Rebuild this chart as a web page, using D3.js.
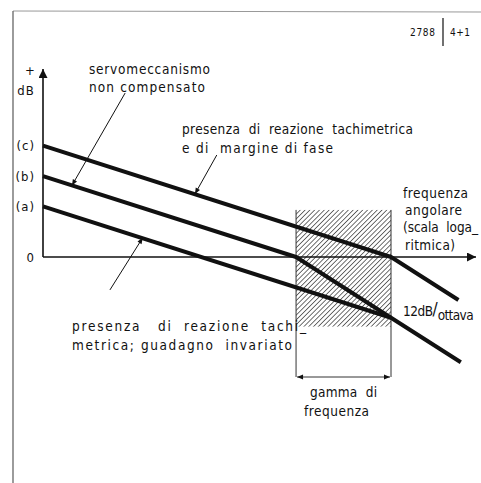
<!DOCTYPE html>
<html>
<head>
<meta charset="utf-8">
<script src="https://cdn.jsdelivr.net/npm/d3@7"></script>
<style>
  body { margin: 0; background: #fff; }
  svg { display: block; }
  text { font-family: "DejaVu Sans Condensed", "DejaVu Sans", sans-serif; fill: #111; }
</style>
</head>
<body>
<div id="chart"></div>
<script>
// levels on the dB axis (value in dB, label as drawn)
const levelValues = [0, 20, 32, 44];
const levelLabels = ["0", "(a)", "(b)", "(c)"];

// asymptotic curves: [octave, dB]
const curveA = [[0, 20], [7.33, -24]];
const curveB = [[0, 32], [5.33, 0], [7.33, -24], [8.8, -41.6]];
const curveC = [[0, 44], [7.33, 0], [8.75, -17]];

// frequency band (hatched)
const bandOctaves = [5.33, 7.33];
const bandDb = [18.6, -27.5];

// leader arrows: [from, to] in [octave, dB]
const leaders = [
    [[1.73, 64.8], [0.61, 28.3]],
    [[3.66, 40.3], [3.2, 24.9]],
    [[1.41, -13], [2.1, 7.6]]
];

const width = 481;
const height = 483;

document.addEventListener("DOMContentLoaded", draw);

function draw() {
    const svg = d3.select("#chart").append("svg")
        .attr("width", width)
        .attr("height", height);

    const x = d3.scaleLinear().domain([0, 9.12]).range([43, 476]);
    const y = d3.scaleLinear().domain([0, 74.3]).range([257, 69]);

    const defs = svg.append("defs");
    defs.append("pattern")
        .attr("id", "hatch")
        .attr("patternUnits", "userSpaceOnUse")
        .attr("width", 3.4).attr("height", 3.4)
        .attr("patternTransform", "rotate(45)")
        .append("line")
        .attr("x1", 0).attr("y1", 0).attr("x2", 0).attr("y2", 3.4)
        .attr("stroke", "#222").attr("stroke-width", 1.3);

    defs.append("marker")
        .attr("id", "arrow")
        .attr("viewBox", "0 0 10 10")
        .attr("refX", 10).attr("refY", 5)
        .attr("markerWidth", 8).attr("markerHeight", 6)
        .attr("markerUnits", "userSpaceOnUse")
        .attr("orient", "auto-start-reverse")
        .append("path")
        .attr("d", "M0,1 L10,5 L0,9 Z")
        .attr("fill", "#111");

    defs.append("marker")
        .attr("id", "bigArrow")
        .attr("viewBox", "0 0 10 10")
        .attr("refX", 10).attr("refY", 5)
        .attr("markerWidth", 14).attr("markerHeight", 9)
        .attr("markerUnits", "userSpaceOnUse")
        .attr("orient", "auto")
        .append("path")
        .attr("d", "M0,0 L10,5 L0,10 Z")
        .attr("fill", "#111");

    // page frame
    svg.append("line")
        .attr("x1", 13).attr("y1", 11).attr("x2", 481).attr("y2", 12)
        .attr("stroke", "#999").attr("stroke-width", 1.2);
    svg.append("line")
        .attr("x1", 13).attr("y1", 11).attr("x2", 13).attr("y2", height)
        .attr("stroke", "#666").attr("stroke-width", 1.3);

    // page reference
    svg.append("text").attr("x", 410).attr("y", 36)
        .attr("textLength", 25).attr("lengthAdjust", "spacing")
        .style("font-size", "10px").text("2788");
    svg.append("line")
        .attr("x1", 443).attr("y1", 18).attr("x2", 443).attr("y2", 46)
        .attr("stroke", "#111").attr("stroke-width", 1.2);
    svg.append("text").attr("x", 450).attr("y", 36)
        .attr("textLength", 20).attr("lengthAdjust", "spacing")
        .style("font-size", "10px").text("4+1");

    // hatched band
    const bx0 = x(bandOctaves[0]), bx1 = x(bandOctaves[1]);
    svg.append("rect")
        .attr("x", bx0).attr("y", y(bandDb[0]))
        .attr("width", bx1 - bx0)
        .attr("height", y(bandDb[1]) - y(bandDb[0]))
        .attr("fill", "url(#hatch)");
    bandOctaves.forEach(o => {
        svg.append("line")
            .attr("x1", x(o)).attr("x2", x(o))
            .attr("y1", y(bandDb[0])).attr("y2", 377)
            .attr("stroke", "#333").attr("stroke-width", 1);
    });
    svg.append("line")
        .attr("x1", bx0 + 1).attr("x2", bx1 - 1)
        .attr("y1", 377).attr("y2", 377)
        .attr("stroke", "#333").attr("stroke-width", 1)
        .attr("marker-start", "url(#arrow)")
        .attr("marker-end", "url(#arrow)");

    // axes
    const yAxis = d3.axisLeft(y)
        .tickValues(levelValues)
        .tickFormat((d, i) => levelLabels[i])
        .tickSize(0)
        .tickPadding(8);
    const gy = svg.append("g").attr("transform", "translate(43,0)").call(yAxis);
    gy.select(".domain").remove();
    gy.selectAll("text")
        .style("font-size", "13px")
        .style("letter-spacing", "1px")
        .style("font-family", "'DejaVu Sans Condensed', sans-serif");

    svg.append("line")
        .attr("x1", x(0)).attr("y1", y(0))
        .attr("x2", x(0)).attr("y2", y(74.3))
        .attr("stroke", "#111").attr("stroke-width", 1.6)
        .attr("marker-end", "url(#bigArrow)");
    svg.append("line")
        .attr("x1", x(0)).attr("y1", y(0))
        .attr("x2", x(9.12)).attr("y2", y(0))
        .attr("stroke", "#111").attr("stroke-width", 1.6)
        .attr("marker-end", "url(#bigArrow)");

    svg.append("text").attr("x", 30).attr("y", 75)
        .attr("text-anchor", "middle").style("font-size", "13px").text("+");
    svg.append("text").attr("x", 26).attr("y", 95)
        .attr("text-anchor", "middle").style("font-size", "13px")
        .style("letter-spacing", "1px").text("dB");

    // curves
    const line = d3.line().x(d => x(d[0])).y(d => y(d[1]));
    [curveA, curveB, curveC].forEach(c => {
        svg.append("path")
            .attr("d", line(c))
            .attr("fill", "none")
            .attr("stroke", "#111")
            .attr("stroke-width", 4)
            .attr("stroke-linejoin", "round");
    });

    // leaders
    leaders.forEach(l => {
        svg.append("line")
            .attr("x1", x(l[0][0])).attr("y1", y(l[0][1]))
            .attr("x2", x(l[1][0])).attr("y2", y(l[1][1]))
            .attr("stroke", "#111").attr("stroke-width", 1)
            .attr("marker-end", "url(#arrow)");
    });

    // labels: x, baseline, width, text
    const labels = [
        [89, 74, 121, "servomeccanismo"],
        [89, 92, 116, "non compensato"],
        [182, 134, 231, "presenza  di  reazione  tachimetrica"],
        [182, 153, 151, "e di  margine di fase"],
        [403, 198, 65, "frequenza"],
        [405, 215, 57, "angolare"],
        [403, 232, 75, "(scala  loga_"],
        [405, 250, 50, "ritmica)"],
        [72, 331, 234, "presenza   di  reazione  tachi_"],
        [72, 350, 220, "metrica; guadagno  invariato"],
        [310, 397, 67, "gamma  di"],
        [304, 416, 65, "frequenza"]
    ];
    svg.append("g").selectAll("text")
        .data(labels)
        .join("text")
        .attr("x", d => d[0])
        .attr("y", d => d[1])
        .attr("textLength", d => d[2])
        .attr("lengthAdjust", "spacing")
        .style("font-size", "13.5px")
        .style("white-space", "pre")
        .text(d => d[3]);

    const oct = svg.append("text").attr("x", 403).attr("y", 316)
        .style("font-size", "13.5px");
    oct.append("tspan").attr("textLength", 30).attr("lengthAdjust", "spacing").text("12dB");
    oct.append("tspan").style("font-size", "17px").attr("dy", -1).text("/");
    oct.append("tspan").attr("dy", 5).attr("textLength", 36).attr("lengthAdjust", "spacing").text("ottava");
}
</script>
</body>
</html>
